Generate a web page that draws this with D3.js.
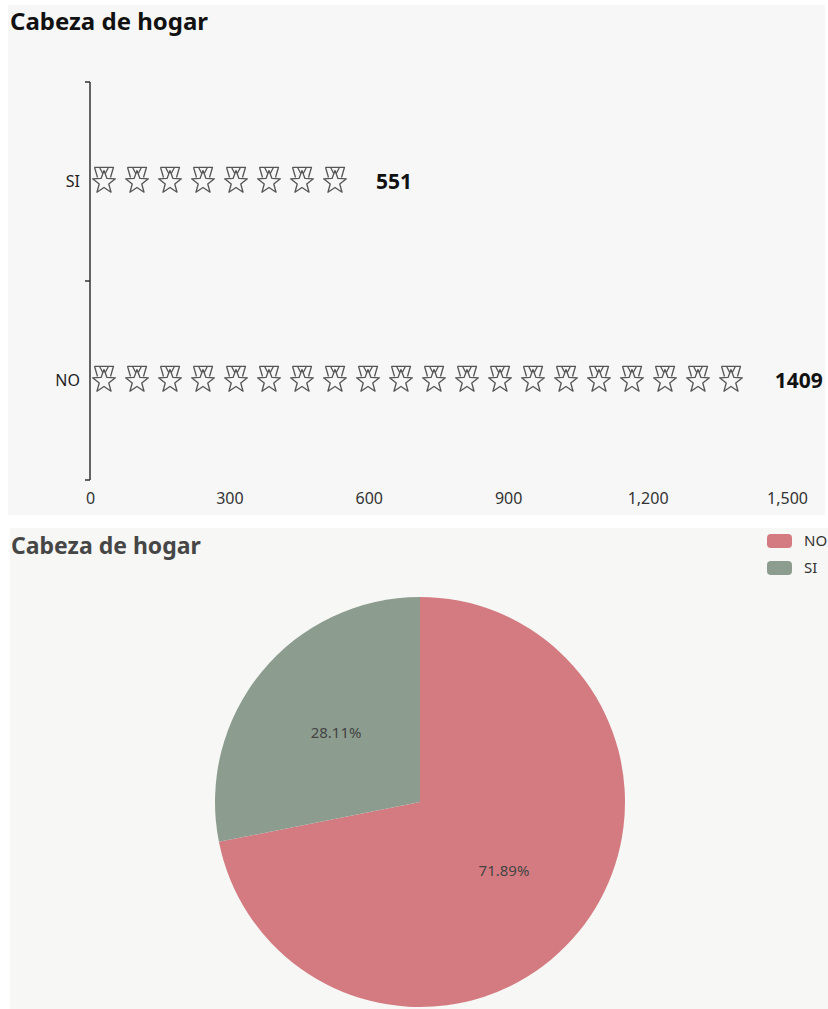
<!DOCTYPE html>
<html><head><meta charset="utf-8">
<script src="https://cdn.jsdelivr.net/npm/d3@7/dist/d3.min.js"></script>
<style>
html,body{margin:0;padding:0;background:#fff;}
svg{display:block;font-family:"Noto Sans","Open Sans",sans-serif;}
</style></head>
<body>
<svg id="c" width="828" height="1009"></svg>
<script>
const title = "Cabeza de hogar";
const categories = ["SI", "NO"];
const values = [551, 1409];
const xTicks = [0, 300, 600, 900, 1200, 1500];
const pieCategories = ["NO", "SI"];
const pieValues = [1409, 551];
const pieColors = ["#d47b81", "#8c9d8f"];

const svg = d3.select("#c");

// ---------- Top panel: pictorial bar ----------
const topG = svg.append("g");
topG.append("rect").attr("x", 8).attr("y", 5).attr("width", 817).attr("height", 510).attr("fill", "#f7f7f7");
topG.append("text").attr("x", 10).attr("y", 30).attr("font-size", 24).attr("font-weight", "bold")
  .attr("fill", "#111").text(title);

const x = d3.scaleLinear().domain([0, 1500]).range([90, 787]);
const y = d3.scaleBand().domain(categories).range([82, 480]);

topG.append("line").attr("x1", 90).attr("x2", 90).attr("y1", 82).attr("y2", 480)
  .attr("stroke", "#333").attr("stroke-width", 1.5);
const bounds = [82, (82 + 480) / 2, 480];
topG.append("g").selectAll("line").data(bounds).join("line")
  .attr("x1", 85).attr("x2", 90).attr("y1", d => d).attr("y2", d => d)
  .attr("stroke", "#333").attr("stroke-width", 1.5);
topG.append("g").selectAll("text").data(categories).join("text")
  .attr("x", 80).attr("y", d => y(d) + y.bandwidth() / 2).attr("dy", "0.35em")
  .attr("text-anchor", "end").attr("font-size", 16).attr("fill", "#222").text(d => d);

const xAxis = topG.append("g").attr("transform", "translate(0,480)")
  .call(d3.axisBottom(x).tickValues(xTicks).tickSize(0).tickFormat(d3.format(",")));
xAxis.select(".domain").remove();
xAxis.selectAll("text").attr("font-size", 16).attr("fill", "#333").attr("y", 13).attr("dy", "0.71em")
  .attr("font-family", '"Noto Sans","Open Sans",sans-serif');

// medal icon: ribbon + star in a 25x27 box
const ribbon = "M3,0.8 L22,0.8 L19,11 M3,0.8 L6,11 M8,0.8 L12.5,9.5 L17,0.8";
const star = (() => {
  const ccx = 12.5, ccy = 16, R1 = 12, r1 = 5;
  let p = "";
  for (let i = 0; i < 10; i++) {
    const a = -Math.PI / 2 + i * Math.PI / 5;
    const rr = i % 2 === 0 ? R1 : r1;
    p += (i === 0 ? "M" : "L") + (ccx + rr * Math.cos(a)).toFixed(2) + "," + (ccy + rr * Math.sin(a)).toFixed(2);
  }
  return p + "Z";
})();

const slot = 33;
categories.forEach((c, i) => {
  const len = x(values[i]) - x(0);
  const n = Math.round(len / slot);
  const my = y(c) + y.bandwidth() / 2;
  const g = topG.append("g");
  d3.range(n).forEach(k => {
    const mx = x(0) + 1.5 + slot * k;
    const ig = g.append("g").attr("transform", `translate(${mx},${my - 15})`);
    ig.append("path").attr("d", ribbon)
      .attr("fill", "none").attr("stroke", "#555").attr("stroke-width", 1.3)
      .attr("stroke-linejoin", "round");
    ig.append("path").attr("d", star)
      .attr("fill", "#f7f7f7").attr("stroke", "#555").attr("stroke-width", 1.3)
      .attr("stroke-linejoin", "round");
  });
  topG.append("text").attr("x", x(values[i]) + 30).attr("y", my).attr("dy", "0.35em")
    .attr("font-size", 21).attr("font-weight", "bold").attr("fill", "#111").text(values[i]);
});

// ---------- Bottom panel: pie ----------
const bot = svg.append("g");
bot.append("rect").attr("x", 10).attr("y", 528).attr("width", 818).attr("height", 481).attr("fill", "#f7f7f5");
bot.append("text").attr("x", 11).attr("y", 554).attr("font-size", 23).attr("font-weight", "bold")
  .attr("fill", "#464646").text(title);

const pcx = 420, pcy = 802, R = 205;
const pie = d3.pie().sort(null).value(d => d)(pieValues);
const arc = d3.arc().innerRadius(0).outerRadius(R);
const pg = bot.append("g").attr("transform", `translate(${pcx},${pcy})`);
pg.selectAll("path").data(pie).join("path").attr("d", arc)
  .attr("fill", (d, i) => pieColors[i]);
const total = d3.sum(pieValues);
const labArc = d3.arc().innerRadius(R * 0.53).outerRadius(R * 0.53);
pg.selectAll("text").data(pie).join("text")
  .attr("transform", d => `translate(${labArc.centroid(d)})`)
  .attr("text-anchor", "middle").attr("dy", "0.35em").attr("font-size", 15).attr("fill", "#444")
  .text(d => (d.value / total * 100).toFixed(2) + "%");

// legend
const lg = bot.append("g");
pieCategories.forEach((c, i) => {
  lg.append("rect").attr("x", 767).attr("y", 534 + i * 27).attr("width", 25).attr("height", 14)
    .attr("rx", 4).attr("fill", pieColors[i]);
  lg.append("text").attr("x", 804).attr("y", 541 + i * 27).attr("dy", "0.35em")
    .attr("font-size", 15).attr("fill", "#333").text(c);
});
</script>
</body></html>
